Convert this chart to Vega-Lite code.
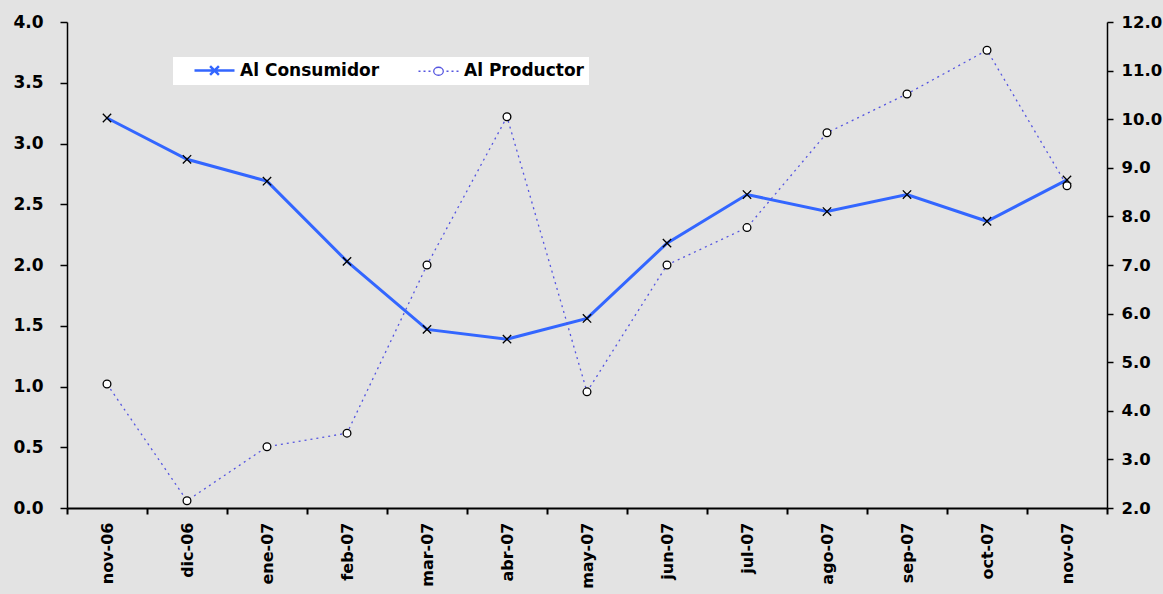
{
  "$schema": "https://vega.github.io/schema/vega-lite/v6.json",
  "width": 1040,
  "height": 486,
  "autosize": {"type": "none"},
  "padding": {"left": 67, "top": 22, "right": 56, "bottom": 86},
  "background": "#e3e3e3",
  "config": {
    "view": {"stroke": null},
    "font": "DejaVu Sans",
    "axis": {"labelFont": "DejaVu Sans", "labelFontWeight": "bold", "labelColor": "#000", "domainColor": "#000", "tickColor": "#000", "grid": false, "title": null}
  },
  "data": {"values": [
    {"mes": "nov-06", "serie": "Al Consumidor", "valor": 3.21},
    {"mes": "dic-06", "serie": "Al Consumidor", "valor": 2.87},
    {"mes": "ene-07", "serie": "Al Consumidor", "valor": 2.69},
    {"mes": "feb-07", "serie": "Al Consumidor", "valor": 2.03},
    {"mes": "mar-07", "serie": "Al Consumidor", "valor": 1.47},
    {"mes": "abr-07", "serie": "Al Consumidor", "valor": 1.39},
    {"mes": "may-07", "serie": "Al Consumidor", "valor": 1.56},
    {"mes": "jun-07", "serie": "Al Consumidor", "valor": 2.18},
    {"mes": "jul-07", "serie": "Al Consumidor", "valor": 2.58},
    {"mes": "ago-07", "serie": "Al Consumidor", "valor": 2.44},
    {"mes": "sep-07", "serie": "Al Consumidor", "valor": 2.58},
    {"mes": "oct-07", "serie": "Al Consumidor", "valor": 2.36},
    {"mes": "nov-07", "serie": "Al Consumidor", "valor": 2.70},
    {"mes": "nov-06", "serie": "Al Productor", "valor": 4.55},
    {"mes": "dic-06", "serie": "Al Productor", "valor": 2.15},
    {"mes": "ene-07", "serie": "Al Productor", "valor": 3.26},
    {"mes": "feb-07", "serie": "Al Productor", "valor": 3.54},
    {"mes": "mar-07", "serie": "Al Productor", "valor": 7.0},
    {"mes": "abr-07", "serie": "Al Productor", "valor": 10.05},
    {"mes": "may-07", "serie": "Al Productor", "valor": 4.39},
    {"mes": "jun-07", "serie": "Al Productor", "valor": 7.0},
    {"mes": "jul-07", "serie": "Al Productor", "valor": 7.77},
    {"mes": "ago-07", "serie": "Al Productor", "valor": 9.72},
    {"mes": "sep-07", "serie": "Al Productor", "valor": 10.52},
    {"mes": "oct-07", "serie": "Al Productor", "valor": 11.42},
    {"mes": "nov-07", "serie": "Al Productor", "valor": 8.63}
  ]},
  "encoding": {
    "x": {
      "field": "mes", "type": "ordinal", "sort": null,
      "scale": {"type": "band", "paddingInner": 0, "paddingOuter": 0},
      "axis": {"labelAngle": -90, "labelFontSize": 16, "tickBand": "extent", "tickSize": 6, "tickWidth": 2, "domainWidth": 2, "labelPadding": 8, "labelAlign": "right", "labelBaseline": "middle"}
    }
  },
  "layer": [
    {
      "transform": [{"filter": "datum.serie === 'Al Consumidor'"}],
      "encoding": {
        "y": {"field": "valor", "type": "quantitative",
          "scale": {"domain": [0, 4], "nice": false, "zero": false},
          "axis": {"orient": "left", "values": [0, 0.5, 1, 1.5, 2, 2.5, 3, 3.5, 4], "format": ".1f", "labelFontSize": 17, "tickSize": 7, "tickWidth": 1.5, "domainWidth": 1.5, "labelPadding": 17}}
      },
      "layer": [
        {"mark": {"type": "line", "strokeWidth": 3},
          "encoding": {
            "color": {"field": "serie", "type": "nominal",
              "scale": {"domain": ["Al Consumidor", "Al Productor"], "range": ["#3366ff", "#5555e0"]},
              "legend": {
                "orient": "none", "legendX": 106, "legendY": 35, "direction": "horizontal", "title": null,
                "fillColor": "#ffffff", "padding": 5, "labelFont": "DejaVu Sans", "labelFontWeight": "bold", "labelFontSize": 17, "labelColor": "#000",
                "symbolSize": 64, "columnPadding": 22, "labelOffset": 45,
                "encode": {"symbols": {"update": {
                  "shape": {"signal": "datum.value === 'Al Consumidor' ? 'M2,0H12M5.9,-1.1L8.1,1.1M5.9,1.1L8.1,-1.1' : 'M2,0h0.5M3.25,0h0.5M4.5,0h0.5M9,0h0.5M10.25,0h0.5M11.5,0h0.5M8.2,0A1.2,1 0 1,1 5.8,0A1.2,1 0 1,1 8.2,0'"},
                  "size": {"value": 64},
                  "fill": {"value": "#ffffff"},
                  "fillOpacity": {"value": 1},
                  "strokeDash": {"value": []},
                  "stroke": {"signal": "datum.value === 'Al Consumidor' ? '#3366ff' : '#333388'"},
                  "strokeWidth": {"signal": "datum.value === 'Al Consumidor' ? 2.5 : 1.3"}
                }}}
              }}
          }},
        {"mark": {"type": "point", "shape": "M-1,-1L1,1M-1,1L1,-1", "filled": false, "stroke": "#000", "strokeWidth": 1.3, "size": 70, "opacity": 1}}
      ]
    },
    {
      "transform": [{"filter": "datum.serie === 'Al Productor'"}],
      "encoding": {
        "y": {"field": "valor", "type": "quantitative",
          "scale": {"domain": [2, 12], "nice": false, "zero": false},
          "axis": {"orient": "right", "values": [2, 3, 4, 5, 6, 7, 8, 9, 10, 11, 12], "format": ".1f", "labelFontSize": 16.5, "tickSize": 6, "tickWidth": 1.5, "domainWidth": 1.5, "labelPadding": 8}}
      },
      "layer": [
        {"mark": {"type": "line", "strokeWidth": 1.3, "strokeDash": [2, 4]},
          "encoding": {
            "color": {"field": "serie", "type": "nominal"}
          }},
        {"mark": {"type": "point", "shape": "circle", "filled": true, "fill": "#fff", "stroke": "#000", "strokeWidth": 1.3, "size": 60, "opacity": 1}}
      ]
    }
  ],
  "resolve": {"scale": {"y": "independent"}}
}
